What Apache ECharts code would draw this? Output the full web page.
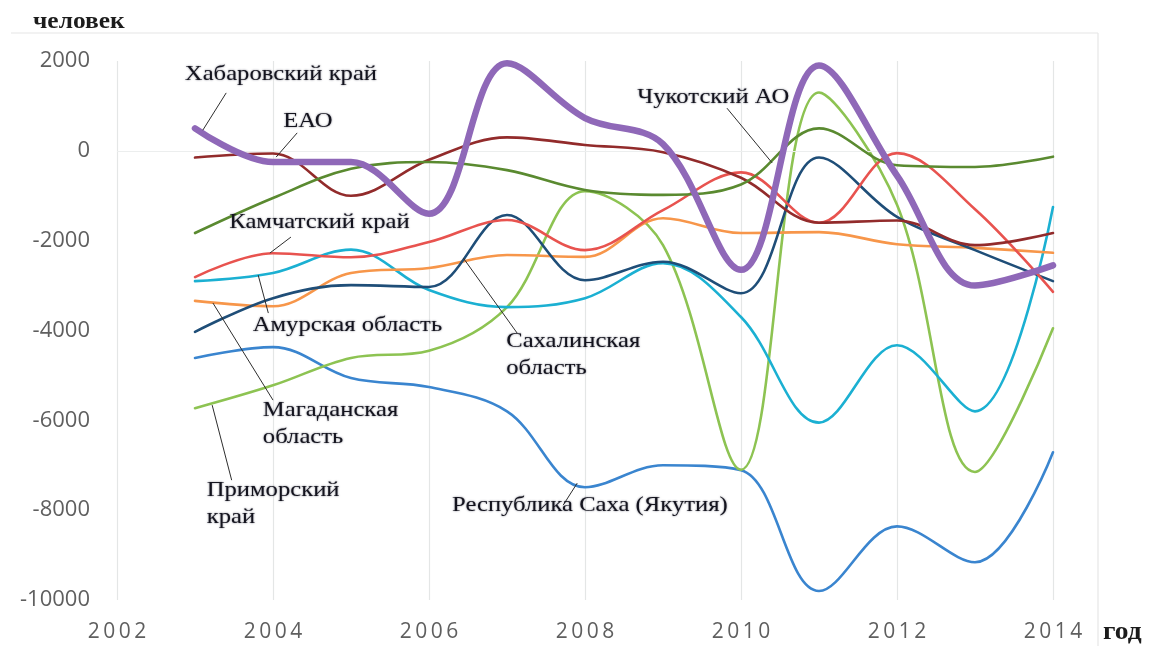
<!DOCTYPE html>
<html>
<head>
<meta charset="utf-8">
<script src="https://cdn.jsdelivr.net/npm/echarts@6/dist/echarts.min.js"></script>
<style>
  html, body { margin: 0; padding: 0; background: #ffffff; }
  #chart { width: 1149px; height: 646px; }
</style>
</head>
<body>
<div id="chart"></div>
<script>
// Естественный прирост/убыль населения регионов ДФО, человек
const years = [2003, 2004, 2005, 2006, 2007, 2008, 2009, 2010, 2011, 2012, 2013, 2014];

const khabarovsk = [500, -250, -250, -1400, 1950, 730, 150, -2650, 1900, -550, -3000, -2550];
const eao        = [-150, -60, -1000, -200, 300, 130, -30, -600, -1600, -1550, -2100, -1830];
const chukotka   = [-1830, -1050, -400, -250, -430, -870, -980, -750, 500, -320, -360, -130];
const kamchatka  = [-2810, -2280, -2370, -2030, -1540, -2210, -1320, -480, -1600, -50, -1300, -3140];
const amur       = [-2900, -2720, -2200, -3100, -3480, -3280, -2500, -3700, -6050, -4330, -5800, -1250];
const magadan    = [-3340, -3460, -2720, -2610, -2320, -2360, -1500, -1830, -1810, -2080, -2160, -2270];
const sakhalin   = [-4030, -3280, -2990, -3030, -1430, -2880, -2470, -3170, -150, -1470, -2210, -2900];
const primorsky  = [-5730, -5220, -4610, -4450, -3480, -900, -2100, -7100, 1300, -1200, -7150, -3950];
const sakha      = [-4610, -4370, -5060, -5260, -5800, -7490, -7000, -7110, -9800, -8360, -9160, -6710];

const yTicks = [2000, 0, -2000, -4000, -6000, -8000, -10000];
const xTicks = [2002, 2004, 2006, 2008, 2010, 2012, 2014];

const seriesDefs = [
  { name: 'Республика Саха (Якутия)', data: sakha,      color: '#3a85cf', width: 2.6 },
  { name: 'Приморский край',          data: primorsky,  color: '#8dc352', width: 2.6 },
  { name: 'Амурская область',         data: amur,       color: '#1bb0d2', width: 2.6 },
  { name: 'Магаданская область',      data: magadan,    color: '#f7964a', width: 2.6 },
  { name: 'Сахалинская область',      data: sakhalin,   color: '#1f4e78', width: 2.6 },
  { name: 'Камчатский край',          data: kamchatka,  color: '#e8534f', width: 2.6 },
  { name: 'ЕАО',                      data: eao,        color: '#922b2b', width: 2.6 },
  { name: 'Чукотский АО',             data: chukotka,   color: '#5a8a30', width: 2.6 },
  { name: 'Хабаровский край',         data: khabarovsk, color: '#8f68b8', width: 6.5 }
];

// Подписи рядов и выноски, в координатах данных: [год, значение]
const callouts = [
  { text: 'Хабаровский край', at: [2002.87, 1710], from: [2003.40, 1290], to: [2003.10, 460] },
  { text: 'ЕАО', at: [2004.13, 660], from: [2004.31, 400], to: [2004.04, -140] },
  { text: 'Чукотский АО', at: [2008.67, 1200], from: [2009.82, 950], to: [2010.40, -270] },
  { text: 'Камчатский край', at: [2003.44, -1585], from: [2004.23, -1920], to: [2003.96, -2276] },
  { text: 'Амурская область', at: [2003.74, -3879], from: [2003.94, -3612], to: [2003.81, -2766] },
  { text: 'Магаданская\nобласть', at: [2003.87, -6073], from: [2004.0, -5550], to: [2003.23, -3389] },
  { text: 'Приморский\nкрай', at: [2003.15, -7854], from: [2003.47, -7332], to: [2003.22, -5661] },
  { text: 'Сахалинская\nобласть', at: [2006.99, -4547], from: [2007.13, -4057], to: [2006.44, -2387] },
  { text: 'Республика Саха (Якутия)', at: [2006.295, -7898], from: [2007.72, -7888], to: [2007.90, -7398] }
];

const chart = echarts.init(document.getElementById('chart'), null, { renderer: 'canvas' });

const axisFont = '"Open Sans", "Liberation Sans", sans-serif';
const labelFont = '"Liberation Serif", "DejaVu Serif", serif';

const series = seriesDefs.map((s, i) => ({
  name: s.name,
  type: 'line',
  data: years.map((y, k) => [y, s.data[k]]),
  smooth: 0.36,
  showSymbol: false,
  symbol: 'none',
  z: 2 + i,
  lineStyle: { color: s.color, width: s.width, cap: 'round', join: 'round' },
  itemStyle: { color: s.color },
  silent: true,
  animation: false
}));

// Линия нулевого уровня
series[0].markLine = {
  silent: true,
  symbol: 'none',
  label: { show: false },
  lineStyle: { color: '#eceeee', width: 1.2, type: 'solid' },
  data: [{ yAxis: 0 }],
  animation: false
};

chart.setOption({
  animation: false,
  backgroundColor: '#ffffff',
  grid: { left: 117, right: 96, top: 61, bottom: 46, containLabel: false },
  xAxis: {
    type: 'value',
    min: 2002, max: 2014, interval: 2,
    axisLine: { show: false },
    axisTick: { show: false },
    splitLine: { show: true, lineStyle: { color: '#e4e6e6', width: 1.2 } },
    axisLabel: {
      margin: 22,
      color: '#5f5f5f',
      fontFamily: axisFont,
      fontSize: 21,
      formatter: v => xTicks.includes(v) ? String(v).split('').join('\u2009') : ''
    }
  },
  yAxis: {
    type: 'value',
    min: -10000, max: 2000, interval: 2000,
    axisLine: { show: false },
    axisTick: { show: false },
    splitLine: { show: false },
    axisLabel: {
      margin: 27,
      color: '#5f5f5f',
      fontFamily: axisFont,
      fontSize: 22,
      formatter: v => yTicks.includes(v) ? String(v) : ''
    }
  },
  series: series
});

function drawOverlay() {
  const toPx = p => chart.convertToPixel({ gridIndex: 0 }, p);
  const elements = [];

  // Рамка области диаграммы (верх и правый край)
  elements.push({ type: 'line', shape: { x1: 11, y1: 33, x2: 1098, y2: 33 },
    style: { stroke: '#e6e6e6', lineWidth: 1.2 }, silent: true });
  elements.push({ type: 'line', shape: { x1: 1098, y1: 33, x2: 1098, y2: 646 },
    style: { stroke: '#e6e6e6', lineWidth: 1.2 }, silent: true });

  // Подписи осей
  elements.push({ type: 'text', x: 33, y: 22, silent: true, scaleX: 1.06,
    style: { text: 'человек', font: 'bold 24px ' + labelFont, fill: '#1c1c1c',
      textAlign: 'left', textVerticalAlign: 'middle' } });
  elements.push({ type: 'text', x: 1103, y: 633, silent: true, scaleX: 1.1,
    style: { text: 'год', font: 'bold 25px ' + labelFont, fill: '#1c1c1c',
      textAlign: 'left', textVerticalAlign: 'middle' } });

  callouts.forEach(c => {
    const a = toPx(c.at), f = toPx(c.from), t = toPx(c.to);
    elements.push({ type: 'line', silent: true, z: 50,
      shape: { x1: f[0], y1: f[1], x2: t[0], y2: t[1] },
      style: { stroke: '#2e2e2e', lineWidth: 1 } });
    elements.push({ type: 'text', silent: true, z: 60,
      x: a[0], y: a[1], scaleX: 1.12,
      style: { text: c.text, font: '22px ' + labelFont, fill: '#14141e',
        lineHeight: 27, textAlign: 'left', textVerticalAlign: 'middle',
        textShadowColor: 'rgba(30,30,50,0.6)', textShadowBlur: 2 } });
  });

  chart.setOption({ graphic: { elements: elements } });
}
drawOverlay();
</script>
</body>
</html>
